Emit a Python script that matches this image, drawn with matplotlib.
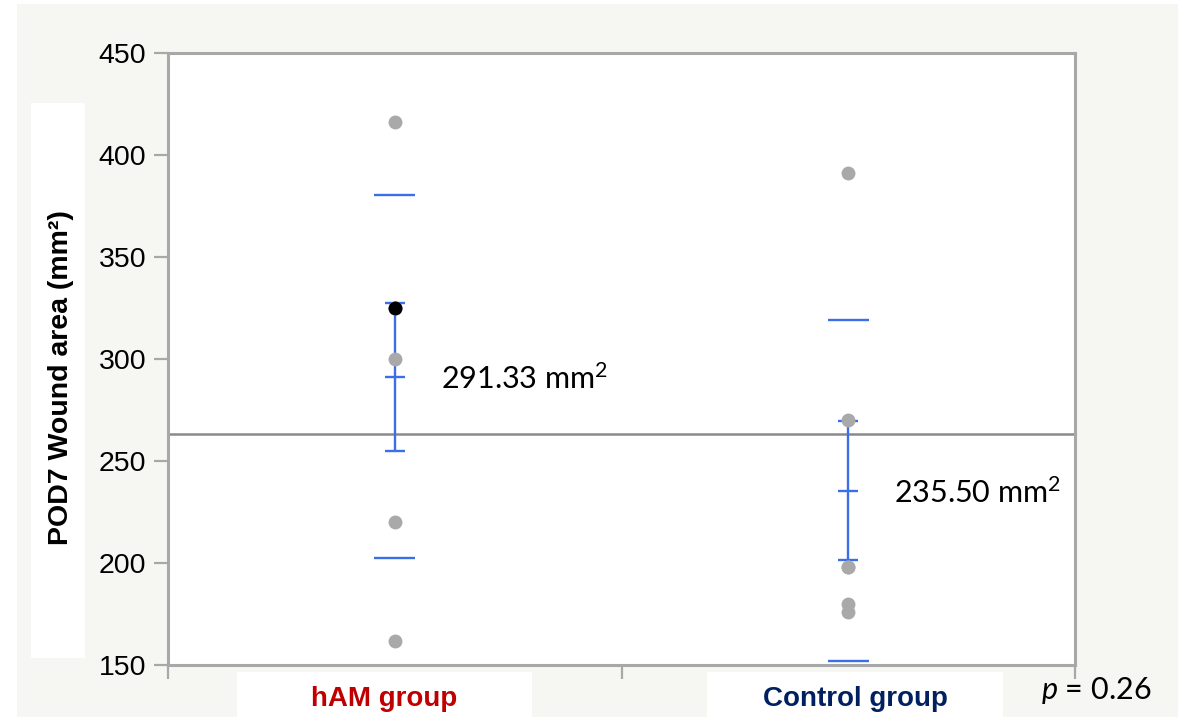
import matplotlib
matplotlib.use("Agg")
import matplotlib.pyplot as plt
from matplotlib.patches import Rectangle

# ---- data ----
categories = ["hAM group", "Control group"]
category_colors = ["#c00000", "#002060"]
ham_values = [416, 325, 325, 300, 220, 162]
control_values = [391, 270, 198, 198, 180, 176]
highlight_ham = 325            # black (selected) point in hAM group
group_means = [291.33, 235.50]
group_se = [36.3, 34.0]        # mean error bars
group_sd = [89.0, 83.5]        # std-dev lines
grand_mean = 263.4
mean_labels = ["291.33 mm$^{2}$", "235.50 mm$^{2}$"]
p_text = "$p$ = 0.26"
y_ticks = [150, 200, 250, 300, 350, 400, 450]

W, H = 1178, 717
plt.rcParams['mathtext.fontset'] = 'custom'
plt.rcParams['mathtext.rm'] = 'Lato'
plt.rcParams['mathtext.it'] = 'Lato:italic'

fig = plt.figure(figsize=(W / 100, H / 100), dpi=100, facecolor="white")
bg = "#f6f6f2"
fig.patches.append(Rectangle((17 / W, 0), 1 - 17 / W, 1 - 4 / H, transform=fig.transFigure,
                             facecolor=bg, edgecolor="none", zorder=-10))

def px_rect(x0, y0, x1, y1, color="white"):
    fig.patches.append(Rectangle((x0 / W, 1 - y1 / H), (x1 - x0) / W, (y1 - y0) / H,
                                 transform=fig.transFigure, facecolor=color,
                                 edgecolor="none", zorder=-5))

# white boxes behind y label and x category labels
px_rect(31, 103, 85, 658)
px_rect(237, 672, 532, 717)
px_rect(707, 672, 1003, 717)

ax = fig.add_axes([168 / W, 1 - 665 / H, (1075 - 168) / W, (665 - 53) / H])
ax.set_facecolor("white")
ax.set_xlim(0, 2)
ax.set_ylim(150, 450)
ax.set_yticks(y_ticks)
ax.set_yticklabels([str(t) for t in y_ticks], fontsize=20.5, family="Liberation Sans")
ax.set_xticks([0, 1, 2])
ax.set_xticklabels([])
spine_col = "#a8a8a8"
for s in ax.spines.values():
    s.set_color(spine_col)
    s.set_linewidth(2.2)
ax.tick_params(axis="both", length=10, width=1.6, color=spine_col, pad=5.5)

blue = "#3b6fe8"
xs = [0.5, 1.5]
cap = 0.022
sdw = 0.045
for x, m, se, sd in zip(xs, group_means, group_se, group_sd):
    ax.vlines(x, m - se, m + se, color=blue, lw=1.7, zorder=3)
    ax.hlines([m - se, m, m + se], x - cap, x + cap, color=blue, lw=1.7, zorder=3)
    ax.hlines([m - sd, m + sd], x - sdw, x + sdw, color=blue, lw=1.7, zorder=3)

ax.axhline(grand_mean, color="#8a8a8a", lw=1.8, zorder=2)

pt_col = "#a9a9a9"
ax.plot([xs[0]] * len(ham_values), ham_values, "o", color=pt_col, ms=10, mec="none", zorder=4)
ax.plot([xs[1]] * len(control_values), control_values, "o", color=pt_col, ms=10, mec="none", zorder=4)
ax.plot([xs[0]], [highlight_ham], "o", color="black", ms=10, mec="none", zorder=5)

for x, m, lab in zip(xs, group_means, mean_labels):
    ax.annotate(lab, (x, m), xytext=(46, -2), textcoords="offset pixels",
                fontsize=22, family="Lato", va="center", ha="left", color="black")

fig.text(61 / W, 1 - 378 / H, "POD7 Wound area (mm²)", rotation=90, ha="center", va="center",
         fontsize=20.5, fontweight="bold", family="Liberation Sans")

for cx, lab, col in zip([384.5, 855], categories, category_colors):
    fig.text(cx / W, 1 - 699 / H, lab, ha="center", va="center", fontsize=20,
             fontweight="bold", family="Liberation Sans", color=col)

fig.text(1041 / W, 1 - 690 / H, p_text, ha="left", va="center", fontsize=22, family="Lato")

fig.savefig("out.png", dpi=100, facecolor=fig.get_facecolor())
